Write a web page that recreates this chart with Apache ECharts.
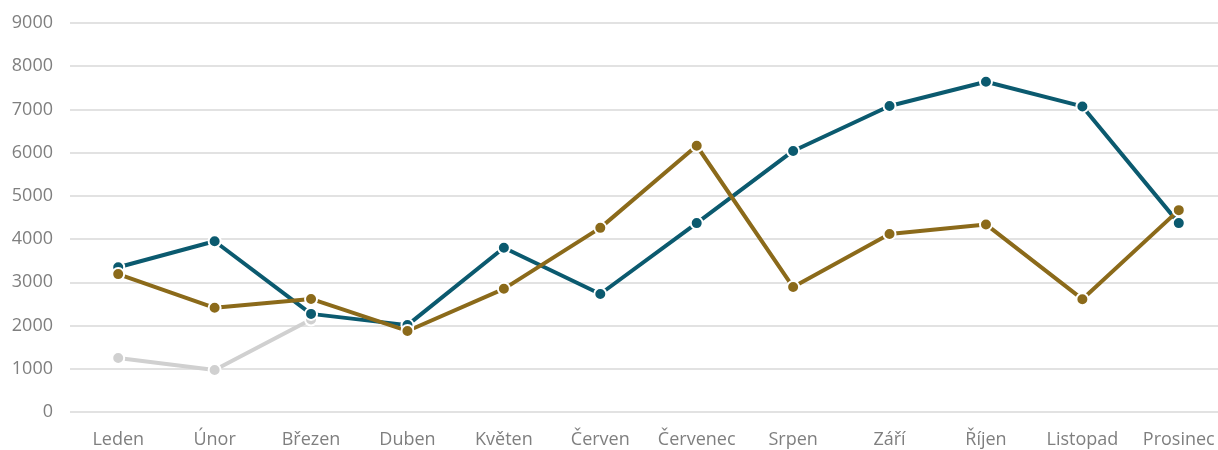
<!DOCTYPE html>
<html>
<head>
<meta charset="utf-8">
<script src="https://cdn.jsdelivr.net/npm/echarts@6/dist/echarts.min.js"></script>
<style>
  html, body { margin: 0; padding: 0; background: #fff; }
  #main { width: 1218px; height: 450px; }
</style>
</head>
<body>
<div id="main"></div>
<script>
var months = ['Leden', 'Únor', 'Březen', 'Duben', 'Květen', 'Červen', 'Červenec', 'Srpen', 'Září', 'Říjen', 'Listopad', 'Prosinec'];
var tealValues = [3350, 3950, 2270, 2010, 3800, 2730, 4370, 6040, 7080, 7640, 7070, 4370];
var brownValues = [3190, 2410, 2615, 1875, 2850, 4260, 6160, 2890, 4120, 4340, 2610, 4670];
var grayValues = [1250, 970, 2140, null, null, null, null, null, null, null, null, null];

var chart = echarts.init(document.getElementById('main'));

function lineSeries(data, color) {
  return {
    type: 'line',
    data: data,
    symbol: 'circle',
    symbolSize: 12,
    connectNulls: false,
    lineStyle: { color: color, width: 4 },
    itemStyle: { color: color, borderColor: '#fff', borderWidth: 2 },
    emphasis: { disabled: true }
  };
}

var option = {
  animation: false,
  grid: { left: 70, width: 1157, top: 23, bottom: 38, outerBoundsMode: 'none' },
  xAxis: {
    type: 'category',
    data: months,
    boundaryGap: true,
    axisLine: { show: false },
    axisTick: { show: false },
    axisLabel: { color: '#7f7f7f', fontSize: 18, fontFamily: 'Open Sans', margin: 19, interval: 0 }
  },
  yAxis: {
    type: 'value',
    min: 0,
    max: 9000,
    interval: 1000,
    axisLine: { show: false },
    axisTick: { show: false },
    axisLabel: {
      color: '#7f7f7f', fontSize: 18, fontFamily: 'Open Sans', margin: 17,
      formatter: function (v) { return String(v); }
    },
    splitLine: { lineStyle: { color: '#d9d9d9', width: 1.5 } }
  },
  series: [
    lineSeries(grayValues, '#d0d0d0'),
    lineSeries(tealValues, '#0b5a6f'),
    lineSeries(brownValues, '#8b6a1a')
  ]
};

chart.setOption(option);
</script>
</body>
</html>
